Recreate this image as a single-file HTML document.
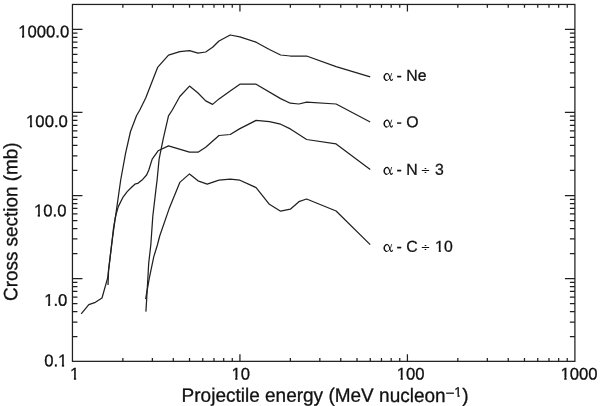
<!DOCTYPE html>
<html><head><meta charset="utf-8"><title>Cross section</title>
<style>
html,body{margin:0;padding:0;background:#fff;}
body{width:600px;height:406px;position:relative;overflow:hidden;font-family:"Liberation Sans",sans-serif;color:#111;}
svg{position:absolute;left:0;top:0;}
#txt{position:absolute;left:0;top:0;width:600px;height:406px;will-change:transform;}
.t{position:absolute;left:0;top:0;white-space:nowrap;line-height:1;transform-origin:0 0;-webkit-text-stroke:0.3px #111;}
.yl{font-size:16.7px;}
.xl{font-size:16.7px;}
.cl{font-size:15.8px;}
.o{display:inline-block;clip-path:polygon(0 0,100% 0,100% 63.5%,65% 63.5%,65% 100%,41.3% 100%,41.3% 63.5%,0 63.5%);}
.dv{display:inline-block;transform-origin:50% 51%;transform:translate(-0.4px,1.1px) scale(0.92,0.72);}
.ti{font-size:19.0px;}
sup{font-size:13.5px;line-height:1;vertical-align:baseline;position:relative;top:-4.9px;letter-spacing:0.6px;margin-left:0.5px;margin-right:0px;}
</style></head><body>
<svg width="600" height="406" viewBox="0 0 600 406">
<rect x="72.45" y="4.45" width="502.45" height="356.90000000000003" fill="none" stroke="#202020" stroke-width="1.25"/>
<path d="M122.87 361.35v-3.4M122.87 4.45v3.4M152.36 361.35v-3.4M152.36 4.45v3.4M173.29 361.35v-3.4M173.29 4.45v3.4M189.52 361.35v-3.4M189.52 4.45v3.4M202.78 361.35v-3.4M202.78 4.45v3.4M213.99 361.35v-3.4M213.99 4.45v3.4M223.70 361.35v-3.4M223.70 4.45v3.4M232.27 361.35v-3.4M232.27 4.45v3.4M239.93 361.35v-7.0M239.93 4.45v7.0M290.35 361.35v-3.4M290.35 4.45v3.4M319.84 361.35v-3.4M319.84 4.45v3.4M340.77 361.35v-3.4M340.77 4.45v3.4M357.00 361.35v-3.4M357.00 4.45v3.4M370.26 361.35v-3.4M370.26 4.45v3.4M381.47 361.35v-3.4M381.47 4.45v3.4M391.19 361.35v-3.4M391.19 4.45v3.4M399.75 361.35v-3.4M399.75 4.45v3.4M407.42 361.35v-7.0M407.42 4.45v7.0M457.83 361.35v-3.4M457.83 4.45v3.4M487.33 361.35v-3.4M487.33 4.45v3.4M508.25 361.35v-3.4M508.25 4.45v3.4M524.48 361.35v-3.4M524.48 4.45v3.4M537.74 361.35v-3.4M537.74 4.45v3.4M548.96 361.35v-3.4M548.96 4.45v3.4M558.67 361.35v-3.4M558.67 4.45v3.4M567.24 361.35v-3.4M567.24 4.45v3.4M72.45 336.68h5.0M574.9 336.68h-5.0M72.45 322.05h5.0M574.9 322.05h-5.0M72.45 311.67h5.0M574.9 311.67h-5.0M72.45 303.62h5.0M574.9 303.62h-5.0M72.45 297.04h5.0M574.9 297.04h-5.0M72.45 291.47h5.0M574.9 291.47h-5.0M72.45 286.65h5.0M574.9 286.65h-5.0M72.45 282.40h5.0M574.9 282.40h-5.0M72.45 278.60h10.0M574.9 278.60h-10.0M72.45 253.58h5.0M574.9 253.58h-5.0M72.45 238.95h5.0M574.9 238.95h-5.0M72.45 228.57h5.0M574.9 228.57h-5.0M72.45 220.52h5.0M574.9 220.52h-5.0M72.45 213.94h5.0M574.9 213.94h-5.0M72.45 208.37h5.0M574.9 208.37h-5.0M72.45 203.55h5.0M574.9 203.55h-5.0M72.45 199.30h5.0M574.9 199.30h-5.0M72.45 195.50h10.0M574.9 195.50h-10.0M72.45 170.48h5.0M574.9 170.48h-5.0M72.45 155.85h5.0M574.9 155.85h-5.0M72.45 145.47h5.0M574.9 145.47h-5.0M72.45 137.42h5.0M574.9 137.42h-5.0M72.45 130.84h5.0M574.9 130.84h-5.0M72.45 125.27h5.0M574.9 125.27h-5.0M72.45 120.45h5.0M574.9 120.45h-5.0M72.45 116.20h5.0M574.9 116.20h-5.0M72.45 112.40h10.0M574.9 112.40h-10.0M72.45 87.38h5.0M574.9 87.38h-5.0M72.45 72.75h5.0M574.9 72.75h-5.0M72.45 62.37h5.0M574.9 62.37h-5.0M72.45 54.32h5.0M574.9 54.32h-5.0M72.45 47.74h5.0M574.9 47.74h-5.0M72.45 42.17h5.0M574.9 42.17h-5.0M72.45 37.35h5.0M574.9 37.35h-5.0M72.45 33.10h5.0M574.9 33.10h-5.0M72.45 29.30h10.0M574.9 29.30h-10.0" fill="none" stroke="#202020" stroke-width="1.25"/>
<path d="M81.2 313.8L88.8 304.6L95.4 302.3L102.0 298.0L107.6 278.2L112.2 240L116.5 209.7L120.7 180L125.6 153.2L130.5 131.5L136.5 115.8L139.8 110L145.7 97.9L157.6 67.4L168.5 55.2L179.8 51.7L189.5 50.7L198 53.2L205.7 52L212.6 47.3L219 41L230.2 35L239.9 36.8L256.1 42.2L269.4 49.5L280.6 55L290.3 56L306.6 56L336.1 66.6L370.2 76.8" fill="none" stroke="#202020" stroke-width="1.25" stroke-linejoin="round"/>
<path d="M145.9 311.6L146.8 297L148.7 263.3L150.8 245L152.8 216.3L155.8 190.6L157.1 180L159.1 159.1L163.1 139.4L168.5 115.8L172.3 110L179.8 96.5L189.5 86.1L198 93L205.7 100.9L212.6 104.4L219 98.9L230.2 91L239.9 84.2L256.1 84.2L280.6 98.6L290.3 103.2L298.9 104L306.6 102.1L336.1 104L370.2 122" fill="none" stroke="#202020" stroke-width="1.25" stroke-linejoin="round"/>
<path d="M108 285L108.6 270L112.2 240L113.5 228L115 219L116.1 214.3L118.3 206.6L122.7 197.7L127.2 191.6L131.6 187.2L134.9 184.2L138.3 183.1L142.7 179.4L146.6 175L148.8 170L152.2 159.1L158.1 150.8L168.5 145.9L189.5 152.2L198 152.2L205.7 147.3L219 135.5L230.2 134.5L239.9 128.6L256.1 120.4L269.4 121.6L280.6 124.2L290.3 128.9L298.9 134.6L306.6 139.5L336.1 143.9L370.2 169.4" fill="none" stroke="#202020" stroke-width="1.25" stroke-linejoin="round"/>
<path d="M145.6 299.2L149.4 277.7L153.8 256.6L157.4 245L159.7 236L169.6 207.4L179.8 182.4L189.5 173.9L198 180.8L207.2 184.1L219 180.2L230.2 179.2L239.9 180.2L256.1 187.6L269.4 204.3L280.6 211.2L290.3 209.2L298.9 201.7L306.6 199L336.1 211L370.2 244.6" fill="none" stroke="#202020" stroke-width="1.25" stroke-linejoin="round"/>
<g transform="translate(383.2 73.20)" fill="none" stroke="#111" stroke-linecap="round" stroke-linejoin="round"><title>α</title><path d="M8.4 0.3C7.8 2.9 6.2 7.3 3.45 7.3" stroke-width="0.85"/><path d="M3.45 7.3C1.55 7.3 0.8 5.7 0.8 3.9C0.8 1.9 1.9 0.3 3.7 0.3" stroke-width="1.0"/><path d="M2.55 6.85C1.55 6.4 1.15 5.2 1.15 3.9C1.15 2.5 1.75 1.25 2.75 0.7" stroke-width="1.15"/><path d="M3.7 0.3C5.5 0.3 6.3 3.0 6.8 5.2C7.1 6.5 7.5 7.3 8.15 7.3C8.65 7.3 9.0 6.8 9.15 6.1" stroke-width="1.1"/></g>
<g transform="translate(383.2 119.80)" fill="none" stroke="#111" stroke-linecap="round" stroke-linejoin="round"><title>α</title><path d="M8.4 0.3C7.8 2.9 6.2 7.3 3.45 7.3" stroke-width="0.85"/><path d="M3.45 7.3C1.55 7.3 0.8 5.7 0.8 3.9C0.8 1.9 1.9 0.3 3.7 0.3" stroke-width="1.0"/><path d="M2.55 6.85C1.55 6.4 1.15 5.2 1.15 3.9C1.15 2.5 1.75 1.25 2.75 0.7" stroke-width="1.15"/><path d="M3.7 0.3C5.5 0.3 6.3 3.0 6.8 5.2C7.1 6.5 7.5 7.3 8.15 7.3C8.65 7.3 9.0 6.8 9.15 6.1" stroke-width="1.1"/></g>
<g transform="translate(383.2 167.10)" fill="none" stroke="#111" stroke-linecap="round" stroke-linejoin="round"><title>α</title><path d="M8.4 0.3C7.8 2.9 6.2 7.3 3.45 7.3" stroke-width="0.85"/><path d="M3.45 7.3C1.55 7.3 0.8 5.7 0.8 3.9C0.8 1.9 1.9 0.3 3.7 0.3" stroke-width="1.0"/><path d="M2.55 6.85C1.55 6.4 1.15 5.2 1.15 3.9C1.15 2.5 1.75 1.25 2.75 0.7" stroke-width="1.15"/><path d="M3.7 0.3C5.5 0.3 6.3 3.0 6.8 5.2C7.1 6.5 7.5 7.3 8.15 7.3C8.65 7.3 9.0 6.8 9.15 6.1" stroke-width="1.1"/></g>
<g transform="translate(383.2 244.20)" fill="none" stroke="#111" stroke-linecap="round" stroke-linejoin="round"><title>α</title><path d="M8.4 0.3C7.8 2.9 6.2 7.3 3.45 7.3" stroke-width="0.85"/><path d="M3.45 7.3C1.55 7.3 0.8 5.7 0.8 3.9C0.8 1.9 1.9 0.3 3.7 0.3" stroke-width="1.0"/><path d="M2.55 6.85C1.55 6.4 1.15 5.2 1.15 3.9C1.15 2.5 1.75 1.25 2.75 0.7" stroke-width="1.15"/><path d="M3.7 0.3C5.5 0.3 6.3 3.0 6.8 5.2C7.1 6.5 7.5 7.3 8.15 7.3C8.65 7.3 9.0 6.8 9.15 6.1" stroke-width="1.1"/></g>
</svg>
<div id="txt">
<div class="t yl" style="transform:translate(18.15px,24.20px) rotate(0.03deg);"><span class="o">1</span>000.0</div>
<div class="t yl" style="transform:translate(26.10px,114.00px) rotate(0.03deg);"><span class="o">1</span>00.0</div>
<div class="t yl" style="transform:translate(33.95px,203.35px) rotate(0.03deg);"><span class="o">1</span>0.0</div>
<div class="t yl" style="transform:translate(44.15px,292.80px) rotate(0.03deg);"><span class="o">1</span>.0</div>
<div class="t yl" style="transform:translate(44.15px,353.30px) rotate(0.03deg);">0.<span class="o">1</span></div>
<div class="t xl" style="transform:translate(70.10px,366.40px) rotate(0.03deg);"><span class="o">1</span></div>
<div class="t xl" style="transform:translate(231.40px,366.40px) rotate(0.03deg);"><span class="o">1</span>0</div>
<div class="t xl" style="transform:translate(396.75px,366.40px) rotate(0.03deg);"><span class="o">1</span>00</div>
<div class="t xl" style="transform:translate(560.50px,366.40px) rotate(0.03deg);"><span class="o">1</span>000</div>
<div class="t ti" style="transform:translate(181.60px,385.45px) rotate(0.03deg) scaleY(1.02);">Projectile energy (MeV nucleon<sup>–<span class="o">1</span></sup>)</div>
<div class="t ti" style="font-size:18.9px;transform:translate(2.05px,301.0px) rotate(-90.03deg) scaleY(1.02);">Cross section (mb)</div>
<div class="t cl" style="transform:translate(396.60px,67.75px) rotate(0.03deg);">- Ne</div>
<div class="t cl" style="transform:translate(396.60px,114.35px) rotate(0.03deg);">- O</div>
<div class="t cl" style="transform:translate(396.60px,161.65px) rotate(0.03deg);">- N <span class="dv">÷</span> 3</div>
<div class="t cl" style="transform:translate(396.60px,238.75px) rotate(0.03deg);">- C <span class="dv">÷</span> <span class="o">1</span>0</div>
</div>
</body></html>
